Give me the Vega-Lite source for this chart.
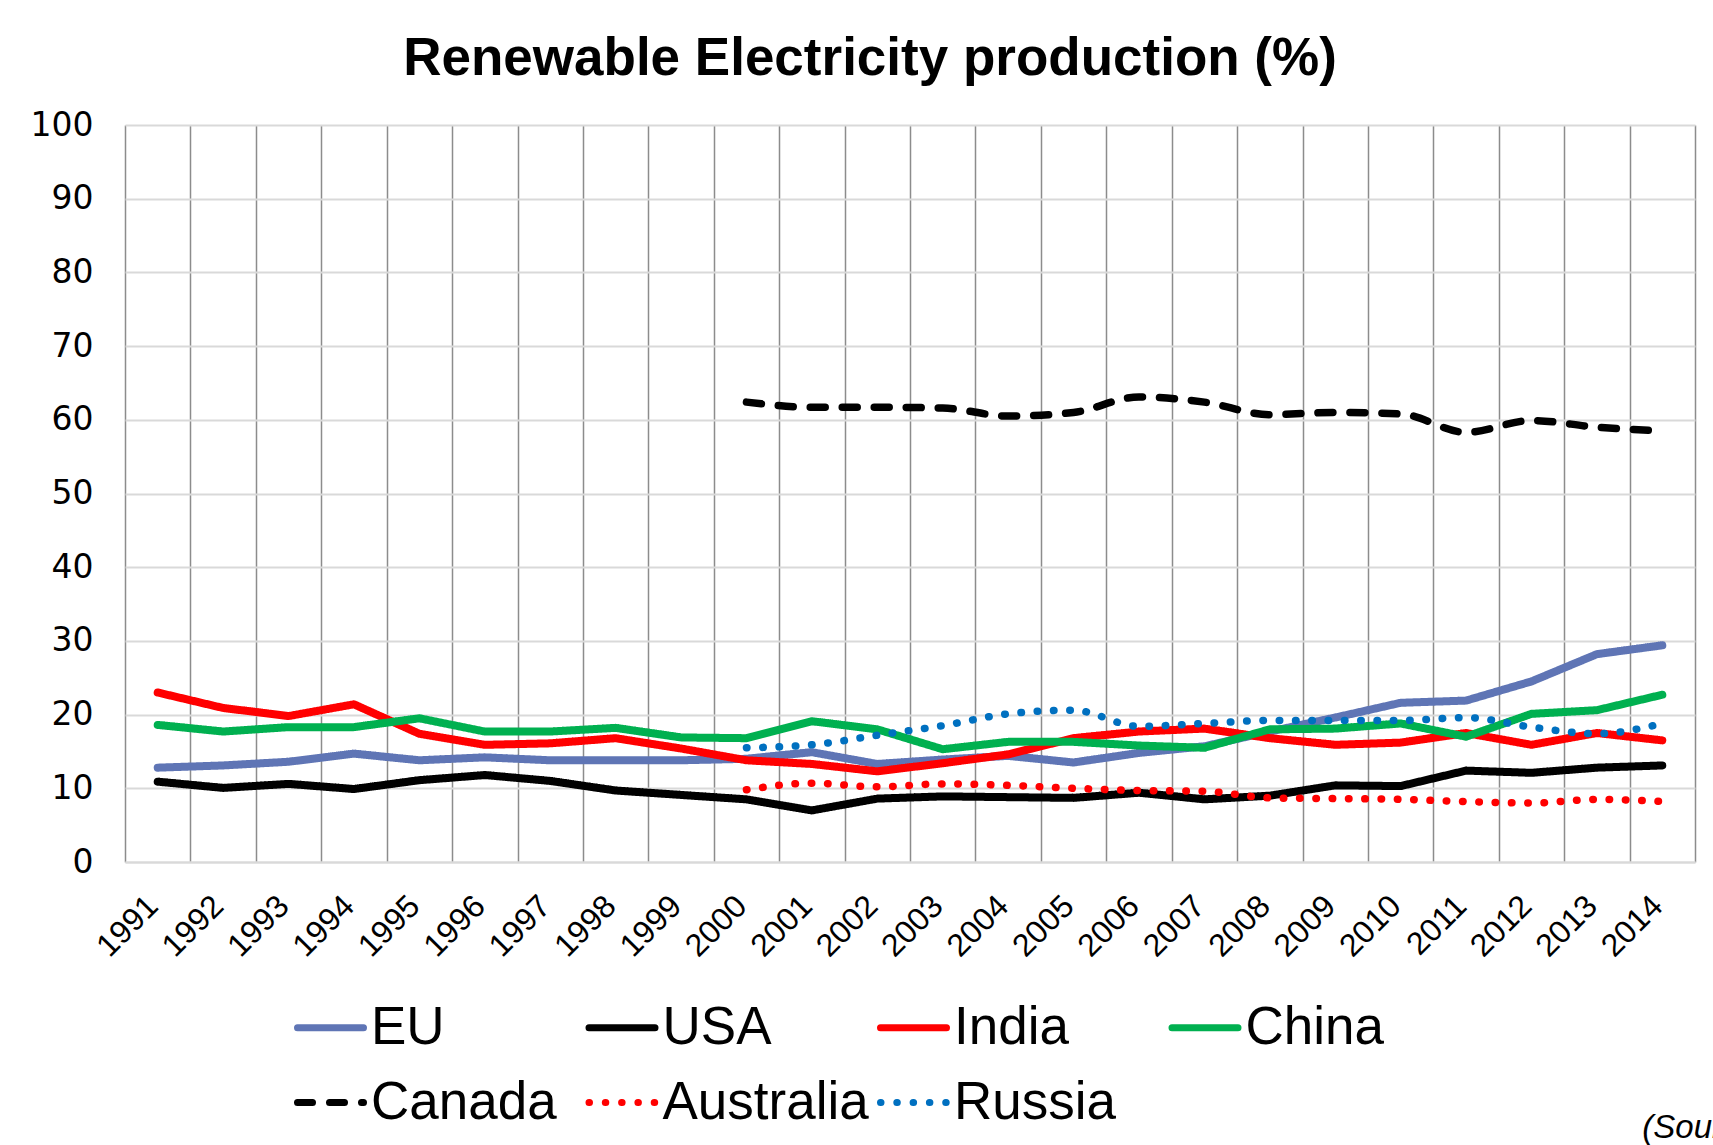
{
  "$schema": "https://vega.github.io/schema/vega-lite/v6.json",
  "autosize": {"type": "none"},
  "padding": {"left": 125, "top": 125, "right": 18, "bottom": 283},
  "width": 1570,
  "height": 737,
  "background": "white",
  "title": {
    "text": "Renewable Electricity production (%)",
    "font": "Liberation Sans",
    "fontSize": 53,
    "fontWeight": "bold",
    "color": "black",
    "anchor": "middle",
    "baseline": "alphabetic",
    "dx": -40,
    "offset": -19
  },
  "datasets": {
    "rows": [
      {"series": "EU", "year": "1991", "value": 12.8},
      {"series": "EU", "year": "1992", "value": 13.1},
      {"series": "EU", "year": "1993", "value": 13.6},
      {"series": "EU", "year": "1994", "value": 14.7},
      {"series": "EU", "year": "1995", "value": 13.8},
      {"series": "EU", "year": "1996", "value": 14.2},
      {"series": "EU", "year": "1997", "value": 13.8},
      {"series": "EU", "year": "1998", "value": 13.8},
      {"series": "EU", "year": "1999", "value": 13.8},
      {"series": "EU", "year": "2000", "value": 14.0},
      {"series": "EU", "year": "2001", "value": 14.9},
      {"series": "EU", "year": "2002", "value": 13.3},
      {"series": "EU", "year": "2003", "value": 13.9},
      {"series": "EU", "year": "2004", "value": 14.4},
      {"series": "EU", "year": "2005", "value": 13.5},
      {"series": "EU", "year": "2006", "value": 14.8},
      {"series": "EU", "year": "2007", "value": 15.7},
      {"series": "EU", "year": "2008", "value": 17.7},
      {"series": "EU", "year": "2009", "value": 19.6},
      {"series": "EU", "year": "2010", "value": 21.6},
      {"series": "EU", "year": "2011", "value": 21.9},
      {"series": "EU", "year": "2012", "value": 24.5},
      {"series": "EU", "year": "2013", "value": 28.2},
      {"series": "EU", "year": "2014", "value": 29.4},
      {"series": "USA", "year": "1991", "value": 10.9},
      {"series": "USA", "year": "1992", "value": 10.05},
      {"series": "USA", "year": "1993", "value": 10.6},
      {"series": "USA", "year": "1994", "value": 9.9},
      {"series": "USA", "year": "1995", "value": 11.1},
      {"series": "USA", "year": "1996", "value": 11.8},
      {"series": "USA", "year": "1997", "value": 11.0},
      {"series": "USA", "year": "1998", "value": 9.7},
      {"series": "USA", "year": "1999", "value": 9.1},
      {"series": "USA", "year": "2000", "value": 8.5},
      {"series": "USA", "year": "2001", "value": 7.0},
      {"series": "USA", "year": "2002", "value": 8.6},
      {"series": "USA", "year": "2003", "value": 8.9},
      {"series": "USA", "year": "2004", "value": 8.8},
      {"series": "USA", "year": "2005", "value": 8.7},
      {"series": "USA", "year": "2006", "value": 9.4},
      {"series": "USA", "year": "2007", "value": 8.5},
      {"series": "USA", "year": "2008", "value": 9.0},
      {"series": "USA", "year": "2009", "value": 10.4},
      {"series": "USA", "year": "2010", "value": 10.3},
      {"series": "USA", "year": "2011", "value": 12.4},
      {"series": "USA", "year": "2012", "value": 12.1},
      {"series": "USA", "year": "2013", "value": 12.8},
      {"series": "USA", "year": "2014", "value": 13.1},
      {"series": "India", "year": "1991", "value": 23.0},
      {"series": "India", "year": "1992", "value": 20.9},
      {"series": "India", "year": "1993", "value": 19.8},
      {"series": "India", "year": "1994", "value": 21.4},
      {"series": "India", "year": "1995", "value": 17.4},
      {"series": "India", "year": "1996", "value": 15.9},
      {"series": "India", "year": "1997", "value": 16.1},
      {"series": "India", "year": "1998", "value": 16.8},
      {"series": "India", "year": "1999", "value": 15.4},
      {"series": "India", "year": "2000", "value": 13.8},
      {"series": "India", "year": "2001", "value": 13.3},
      {"series": "India", "year": "2002", "value": 12.3},
      {"series": "India", "year": "2003", "value": 13.4},
      {"series": "India", "year": "2004", "value": 14.6},
      {"series": "India", "year": "2005", "value": 16.8},
      {"series": "India", "year": "2006", "value": 17.7},
      {"series": "India", "year": "2007", "value": 18.1},
      {"series": "India", "year": "2008", "value": 16.8},
      {"series": "India", "year": "2009", "value": 15.9},
      {"series": "India", "year": "2010", "value": 16.2},
      {"series": "India", "year": "2011", "value": 17.5},
      {"series": "India", "year": "2012", "value": 15.9},
      {"series": "India", "year": "2013", "value": 17.5},
      {"series": "India", "year": "2014", "value": 16.5},
      {"series": "China", "year": "1991", "value": 18.6},
      {"series": "China", "year": "1992", "value": 17.7},
      {"series": "China", "year": "1993", "value": 18.3},
      {"series": "China", "year": "1994", "value": 18.3},
      {"series": "China", "year": "1995", "value": 19.5},
      {"series": "China", "year": "1996", "value": 17.7},
      {"series": "China", "year": "1997", "value": 17.7},
      {"series": "China", "year": "1998", "value": 18.2},
      {"series": "China", "year": "1999", "value": 16.9},
      {"series": "China", "year": "2000", "value": 16.8},
      {"series": "China", "year": "2001", "value": 19.1},
      {"series": "China", "year": "2002", "value": 18.0},
      {"series": "China", "year": "2003", "value": 15.3},
      {"series": "China", "year": "2004", "value": 16.3},
      {"series": "China", "year": "2005", "value": 16.3},
      {"series": "China", "year": "2006", "value": 15.8},
      {"series": "China", "year": "2007", "value": 15.5},
      {"series": "China", "year": "2008", "value": 18.0},
      {"series": "China", "year": "2009", "value": 18.1},
      {"series": "China", "year": "2010", "value": 18.8},
      {"series": "China", "year": "2011", "value": 17.0},
      {"series": "China", "year": "2012", "value": 20.1},
      {"series": "China", "year": "2013", "value": 20.6},
      {"series": "China", "year": "2014", "value": 22.7},
      {"series": "Canada", "year": "2000", "value": 62.4},
      {"series": "Canada", "year": "2001", "value": 61.7},
      {"series": "Canada", "year": "2002", "value": 61.7},
      {"series": "Canada", "year": "2003", "value": 61.6},
      {"series": "Canada", "year": "2004", "value": 60.5},
      {"series": "Canada", "year": "2005", "value": 61.0},
      {"series": "Canada", "year": "2006", "value": 63.1},
      {"series": "Canada", "year": "2007", "value": 62.4},
      {"series": "Canada", "year": "2008", "value": 60.7},
      {"series": "Canada", "year": "2009", "value": 61.0},
      {"series": "Canada", "year": "2010", "value": 60.8},
      {"series": "Canada", "year": "2011", "value": 58.3},
      {"series": "Canada", "year": "2012", "value": 59.9},
      {"series": "Canada", "year": "2013", "value": 59.0},
      {"series": "Canada", "year": "2014", "value": 58.5},
      {"series": "Australia", "year": "2000", "value": 9.8},
      {"series": "Australia", "year": "2001", "value": 10.7},
      {"series": "Australia", "year": "2002", "value": 10.2},
      {"series": "Australia", "year": "2003", "value": 10.6},
      {"series": "Australia", "year": "2004", "value": 10.4},
      {"series": "Australia", "year": "2005", "value": 10.0},
      {"series": "Australia", "year": "2006", "value": 9.7},
      {"series": "Australia", "year": "2007", "value": 9.6},
      {"series": "Australia", "year": "2008", "value": 8.7},
      {"series": "Australia", "year": "2009", "value": 8.6},
      {"series": "Australia", "year": "2010", "value": 8.5},
      {"series": "Australia", "year": "2011", "value": 8.2},
      {"series": "Australia", "year": "2012", "value": 8.0},
      {"series": "Australia", "year": "2013", "value": 8.5},
      {"series": "Australia", "year": "2014", "value": 8.2},
      {"series": "Russia", "year": "2000", "value": 15.5},
      {"series": "Russia", "year": "2001", "value": 15.9},
      {"series": "Russia", "year": "2002", "value": 17.2},
      {"series": "Russia", "year": "2003", "value": 18.5},
      {"series": "Russia", "year": "2004", "value": 20.1},
      {"series": "Russia", "year": "2005", "value": 20.6},
      {"series": "Russia", "year": "2006", "value": 18.4},
      {"series": "Russia", "year": "2007", "value": 18.8},
      {"series": "Russia", "year": "2008", "value": 19.2},
      {"series": "Russia", "year": "2009", "value": 19.2},
      {"series": "Russia", "year": "2010", "value": 19.2},
      {"series": "Russia", "year": "2011", "value": 19.6},
      {"series": "Russia", "year": "2012", "value": 18.3},
      {"series": "Russia", "year": "2013", "value": 17.4},
      {"series": "Russia", "year": "2014", "value": 18.8}
    ]
  },
  "layer": [
    {
      "data": {"name": "rows"},
      "transform": [{"filter": {"field": "series", "oneOf": ["EU", "USA", "India", "China"]}}],
      "mark": {"type": "line", "strokeWidth": 8, "strokeCap": "round", "strokeJoin": "round", "interpolate": "linear"},
      "encoding": {
        "x": {
          "field": "year",
          "type": "ordinal",
          "bandPosition": 0.5,
          "scale": {"type": "band", "paddingInner": 0, "paddingOuter": 0},
          "axis": {
            "title": null,
            "tickBand": "extent",
            "grid": true,
            "gridColor": "#8c8c8c",
            "gridWidth": 1.5,
            "ticks": false,
            "domain": true,
            "domainColor": "#d9d9d9",
            "domainWidth": 2,
            "labelAngle": -45,
            "labelAlign": "right",
            "labelBaseline": "top",
            "labelFont": "Liberation Sans",
            "labelFontSize": 32,
            "labelColor": "black",
            "labelPadding": 28,
            "labelOffset": -16,
            "labelOverlap": false
          }
        },
        "y": {
          "field": "value",
          "type": "quantitative",
          "scale": {"domain": [0, 100], "nice": false, "zero": true},
          "axis": {
            "title": null,
            "values": [0, 10, 20, 30, 40, 50, 60, 70, 80, 90, 100],
            "grid": true,
            "gridColor": "#d9d9d9",
            "gridWidth": 2,
            "ticks": false,
            "domain": false,
            "labelFont": "DejaVu Sans",
            "labelFontSize": 33,
            "labelColor": "black",
            "labelPadding": 32
          }
        },
        "color": {
          "field": "series",
          "type": "nominal",
          "scale": {
            "domain": ["EU", "USA", "India", "China", "Canada", "Australia", "Russia"],
            "range": ["#5f75b5", "#000000", "#ff0000", "#00b050", "#000000", "#ff0000", "#0070c0"]
          },
          "legend": {
            "title": null,
            "orient": "none",
            "direction": "horizontal",
            "legendX": 169,
            "legendY": 866,
            "columns": 4,
            "gridAlign": "all",
            "columnPadding": -3.5,
            "rowPadding": 11,
            "padding": 0,
            "symbolType": "stroke",
            "symbolSize": 4356,
            "symbolStrokeWidth": 7,
            "labelFont": "Liberation Sans",
            "labelFontSize": 53,
            "labelColor": "black",
            "labelOffset": 4,
            "labelLimit": 0,
            "encode": {"symbols": {"update": {"strokeCap": {"value": "round"}}}}
          }
        },
        "strokeDash": {
          "field": "series",
          "type": "nominal",
          "scale": {
            "domain": ["EU", "USA", "India", "China", "Canada", "Australia", "Russia"],
            "range": [[1, 0], [1, 0], [1, 0], [1, 0], [15, 17], [0.5, 15.8], [0.5, 15.8]]
          },
          "legend": {
            "title": null,
            "orient": "none",
            "direction": "horizontal",
            "legendX": 169,
            "legendY": 866,
            "columns": 4,
            "gridAlign": "all",
            "columnPadding": -3.5,
            "rowPadding": 11,
            "padding": 0,
            "symbolType": "stroke",
            "symbolSize": 4356,
            "symbolStrokeWidth": 7,
            "labelFont": "Liberation Sans",
            "labelFontSize": 53,
            "labelColor": "black",
            "labelOffset": 4,
            "labelLimit": 0,
            "encode": {"symbols": {"update": {"strokeCap": {"value": "round"}}}}
          }
        }
      }
    },
    {
      "data": {"name": "rows"},
      "transform": [{"filter": {"field": "series", "oneOf": ["Canada", "Australia", "Russia"]}}],
      "mark": {"type": "line", "strokeWidth": 7.5, "strokeCap": "round", "strokeJoin": "round", "interpolate": "monotone"},
      "encoding": {
        "x": {"field": "year", "type": "ordinal", "bandPosition": 0.5},
        "y": {"field": "value", "type": "quantitative"},
        "color": {"field": "series", "type": "nominal"},
        "strokeDash": {"field": "series", "type": "nominal"}
      }
    },
    {
      "data": {"values": [{"note": "(Source"}]},
      "mark": {"type": "text", "font": "Liberation Sans", "fontStyle": "italic", "fontSize": 33, "color": "black", "align": "left", "baseline": "alphabetic", "dx": -20, "clip": false},
      "encoding": {
        "x": {"datum": "2014", "type": "ordinal", "bandPosition": 0.5},
        "y": {"datum": -37.5, "type": "quantitative"},
        "text": {"field": "note"}
      }
    }
  ],
  "config": {
    "view": {"stroke": null}
  }
}
